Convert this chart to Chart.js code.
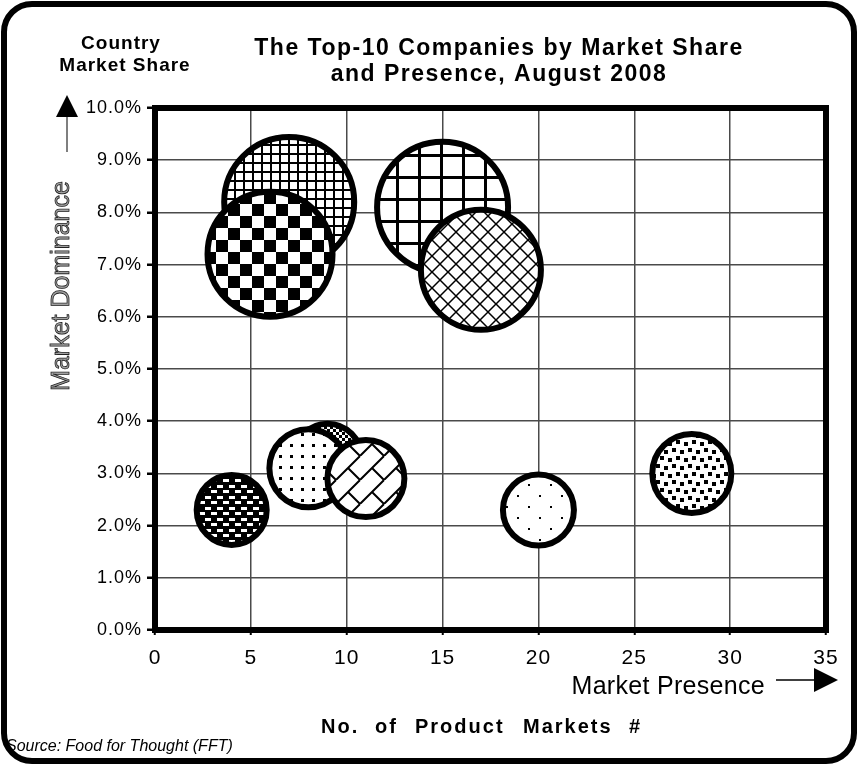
<!DOCTYPE html>
<html>
<head>
<meta charset="utf-8">
<title>Top-10 Companies by Market Share and Presence</title>
<script src="https://cdn.jsdelivr.net/npm/chart.js@4.4.1/dist/chart.umd.min.js"></script>
<style>
  html, body { margin: 0; padding: 0; background: #fff; }
  #wrap { width: 858px; height: 765px; }
</style>
</head>
<body>
<div id="wrap"><canvas id="bubbleChart" width="858" height="765"></canvas></div>
<script>
// No. of product markets (x) for each of the top-10 companies
var presence = [7, 6, 15, 17, 9, 8, 11, 4, 20, 28];
// country market share in % (y)
var share = [8.2, 7.2, 8.1, 6.9, 3.3, 3.1, 2.9, 2.3, 2.3, 3.0];
// bubble radius
var bubbleSize = [65, 62.5, 65.5, 60, 34, 39, 38.5, 35, 35.5, 39.5];
// fill pattern per bubble
var fills = ['finegrid', 'checker', 'biggrid', 'diamond', 'smallchecker', 'dots', 'brick', 'dashes', 'sparsedots', 'squares'];

var xTickValues = [0, 5, 10, 15, 20, 25, 30, 35];
var yTickValues = [0, 1, 2, 3, 4, 5, 6, 7, 8, 9, 10];
var yTickLabels = ['0.0%', '1.0%', '2.0%', '3.0%', '4.0%', '5.0%', '6.0%', '7.0%', '8.0%', '9.0%', '10.0%'];

var canvas = document.getElementById('bubbleChart');
var ctx = canvas.getContext('2d');

function tile(w, h, bg, draw) {
    var c = document.createElement('canvas');
    c.width = w;
    c.height = h;
    var g = c.getContext('2d');
    g.fillStyle = bg;
    g.fillRect(0, 0, w, h);
    g.fillStyle = '#000';
    g.strokeStyle = '#000';
    draw(g);
    return ctx.createPattern(c, 'repeat');
}

function makePattern(name) {
    switch (name) {
    case 'finegrid':
        return tile(9, 9, '#fff', function(g) {
            g.fillRect(0, 0, 9, 2);
            g.fillRect(0, 0, 2, 9);
        });
    case 'biggrid':
        return tile(22, 22, '#fff', function(g) {
            g.fillRect(0, 0, 22, 3);
            g.fillRect(0, 0, 3, 22);
        });
    case 'checker':
        return tile(24, 24, '#fff', function(g) {
            g.fillRect(0, 0, 12, 12);
            g.fillRect(12, 12, 12, 12);
        });
    case 'smallchecker':
        return tile(6, 6, '#fff', function(g) {
            g.fillRect(0, 0, 3, 3);
            g.fillRect(3, 3, 3, 3);
        });
    case 'diamond':
        return tile(16, 16, '#fff', function(g) {
            g.lineWidth = 1.5;
            for (var k = -16; k <= 16; k += 16) {
                g.beginPath();
                g.moveTo(k, 0); g.lineTo(k + 16, 16);
                g.moveTo(k + 16, 0); g.lineTo(k, 16);
                g.stroke();
            }
        });
    case 'dots':
        return tile(11, 11, '#fff', function(g) {
            g.fillRect(4, 4, 3, 3);
        });
    case 'sparsedots':
        return tile(22, 22, '#fff', function(g) {
            g.fillRect(0, 0, 2, 2);
            g.fillRect(11, 11, 2, 2);
        });
    case 'squares':
        return tile(16, 16, '#fff', function(g) {
            g.fillRect(0, 0, 4, 4);
            g.fillRect(8, 2, 4, 4);
            g.fillRect(4, 8, 4, 4);
            g.fillRect(12, 10, 4, 4);
        });
    case 'dashes':
        return tile(12, 11, '#000', function(g) {
            g.fillStyle = '#fff';
            g.fillRect(1, 1, 6, 3);
            g.fillRect(7, 6, 5, 3);
            g.fillRect(0, 6, 1, 3);
        });
    case 'brick':
        return tile(24, 24, '#fff', function(g) {
            g.lineWidth = 2;
            g.beginPath();
            for (var k = 0; k <= 48; k += 24) {
                g.moveTo(k, 0); g.lineTo(k - 24, 24);
            }
            g.moveTo(12, 12); g.lineTo(24, 24);
            g.stroke();
        });
    }
    return '#fff';
}

var points = [];
for (var i = 0; i < presence.length; i++) {
    points.push({ x: presence[i], y: share[i], r: bubbleSize[i] });
}

function triangle(c, x1, y1, x2, y2, x3, y3) {
    c.beginPath();
    c.moveTo(x1, y1); c.lineTo(x2, y2); c.lineTo(x3, y3);
    c.closePath();
    c.fill();
}

// frame, titles, arrows and notes
var decorations = {
    id: 'decorations',
    beforeDraw: function(chart) {
        chart.ctx.letterSpacing = '1px';
    },
    afterDatasetsDraw: function(chart) {
        var c = chart.ctx, a = chart.chartArea;
        c.save();
        c.strokeStyle = '#000';
        c.lineWidth = 6;
        c.strokeRect(a.left, a.top, a.right - a.left, a.bottom - a.top);
        c.restore();
    },
    afterDraw: function(chart) {
        var c = chart.ctx;
        c.save();
        // outer rounded border
        c.strokeStyle = '#000';
        c.lineWidth = 6;
        c.beginPath();
        c.roundRect(4, 4, 850, 757, 28);
        c.stroke();

        c.fillStyle = '#000';
        c.textAlign = 'center';
        c.textBaseline = 'alphabetic';
        c.letterSpacing = '1.5px';
        c.font = 'bold 23px "Liberation Sans", Arial, sans-serif';
        c.fillText('The Top-10 Companies by Market Share', 499, 55);
        c.fillText('and Presence, August 2008', 499, 81);

        c.letterSpacing = '1px';
        c.font = 'bold 19px "Liberation Sans", Arial, sans-serif';
        c.fillText('Country', 121, 49);
        c.fillText('Market Share', 125, 71);

        // y arrow
        triangle(c, 67, 95, 56, 117, 78, 117);
        c.strokeStyle = '#555';
        c.lineWidth = 1.5;
        c.beginPath();
        c.moveTo(67, 117); c.lineTo(67, 152);
        c.stroke();

        // y axis caption
        c.save();
        c.translate(62, 286);
        c.rotate(-Math.PI / 2);
        c.letterSpacing = '0px';
        c.font = '25px "Liberation Sans", Arial, sans-serif';
        c.textBaseline = 'middle';
        c.fillStyle = '#a0a0a0';
        c.fillText('Market Dominance', 0, 0);
        c.strokeStyle = '#222';
        c.lineWidth = 0.8;
        c.strokeText('Market Dominance', 0, 0);
        c.restore();

        // x caption + arrow
        c.textAlign = 'right';
        c.letterSpacing = '0.3px';
        c.font = '25px "Liberation Sans", Arial, sans-serif';
        c.fillText('Market Presence', 765, 694);
        c.strokeStyle = '#000';
        c.lineWidth = 1.5;
        c.beginPath();
        c.moveTo(776, 680); c.lineTo(815, 680);
        c.stroke();
        triangle(c, 814, 668, 814, 692, 838, 680);

        c.textAlign = 'left';
        c.letterSpacing = '2px';
        c.font = 'bold 20px "Liberation Sans", Arial, sans-serif';
        c.fillText('No.', 321, 733);
        c.fillText('of', 375, 733);
        c.fillText('Product', 415, 733);
        c.fillText('Markets', 523, 733);
        c.fillText('#', 629, 733);

        c.letterSpacing = '0px';
        c.font = 'italic 16px "Liberation Sans", Arial, sans-serif';
        c.fillText('Source: Food for Thought (FFT)', 6, 751);
        c.restore();
    }
};

var bubbleChart = new Chart(ctx, {
    type: 'bubble',
    data: {
        datasets: [{
            label: 'Top-10 companies',
            data: points,
            backgroundColor: fills.map(makePattern),
            borderColor: '#000',
            borderWidth: 6
        }]
    },
    options: {
        responsive: false,
        animation: false,
        events: [],
        layout: {
            autoPadding: false,
            padding: { left: 0, right: 32, top: 108, bottom: 0 }
        },
        plugins: {
            legend: { display: false },
            tooltip: { enabled: false },
            title: { display: false }
        },
        scales: {
            x: {
                type: 'linear',
                min: 0,
                max: 35,
                afterBuildTicks: function(s) {
                    s.ticks = xTickValues.map(function(v) { return { value: v }; });
                },
                afterFit: function(s) {
                    s.height = 135;
                    s.paddingLeft = 0;
                    s.paddingRight = 0;
                },
                grid: { color: '#4a4a4a', lineWidth: 1.5, tickLength: 5, tickColor: '#000', tickWidth: 2 },
                border: { display: false },
                ticks: {
                    color: '#000',
                    padding: 11,
                    font: { family: '"Liberation Sans Narrow", "Liberation Sans", Arial', size: 21 }
                }
            },
            y: {
                type: 'linear',
                min: 0,
                max: 10,
                afterBuildTicks: function(s) {
                    s.ticks = yTickValues.map(function(v) { return { value: v }; });
                },
                afterFit: function(s) {
                    s.width = 155;
                    s.paddingTop = 0;
                    s.paddingBottom = 0;
                },
                grid: { color: '#4a4a4a', lineWidth: 1.5, tickLength: 8, tickColor: '#000', tickWidth: 2.5 },
                border: { display: false },
                ticks: {
                    color: '#000',
                    padding: 5,
                    font: { family: '"Liberation Sans", Arial', size: 18 },
                    callback: function(v, idx) { return yTickLabels[idx]; }
                }
            }
        }
    },
    plugins: [decorations]
});
</script>
</body>
</html>
